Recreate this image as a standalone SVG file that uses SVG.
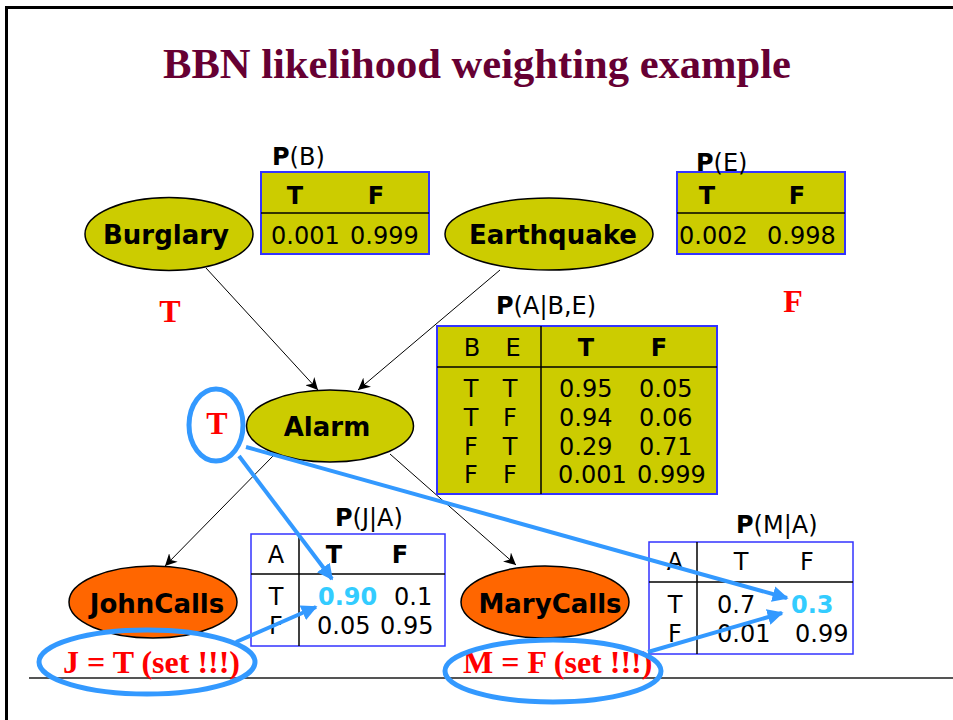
<svg xmlns="http://www.w3.org/2000/svg" width="953" height="720" viewBox="0 0 953 720">
<style>
.t{font-family:"DejaVu Sans","Verdana",sans-serif;font-size:24px;fill:#000}
.b{font-weight:bold}
.nl{font-family:"DejaVu Sans","Verdana",sans-serif;font-size:26px;font-weight:bold;fill:#000;text-anchor:middle}
.red{font-family:"Liberation Serif","Times New Roman",serif;font-weight:bold;font-size:32px;fill:#ff0000}
.m{text-anchor:middle}
.tab{fill:#cccc00;stroke:#3333ff;stroke-width:2}
.tabw{fill:#ffffff;stroke:#3333ff;stroke-width:1.5}
.div{stroke:#000;stroke-width:1.5;fill:none}
.ell{fill:#cccc00;stroke:#000;stroke-width:1.5}
.orn{fill:#ff6600;stroke:#000;stroke-width:1.5}
.edge{stroke:#000;stroke-width:1;fill:none;marker-end:url(#ah)}
.blue{stroke:#3399ff;stroke-width:5;fill:none}
.barr{stroke:#3399ff;stroke-width:4;fill:none;marker-end:url(#bh)}
.cy{fill:#33ccff;font-weight:bold}
</style>
<defs>
<marker id="ah" viewBox="0 0 10 10" refX="10" refY="5" markerWidth="12" markerHeight="12" markerUnits="userSpaceOnUse" orient="auto">
<path d="M0,0 L10,5 L0,10 L3,5 z" fill="#000"/>
</marker>
<marker id="bh" viewBox="0 0 10 10" refX="9" refY="5" markerWidth="4" markerHeight="4" orient="auto">
<path d="M0,0 L10,5 L0,10 z" fill="#3399ff"/>
</marker>
</defs>
<rect x="0" y="0" width="953" height="720" fill="#ffffff"/>
<g id="frame">
<path d="M6.5,720 L6.5,7.5 L953,7.5" stroke="#000" stroke-width="3" fill="none"/>
<line x1="29" y1="678" x2="953" y2="678" stroke="#555" stroke-width="2"/>
</g>
<text id="title" x="163" y="78" font-family="Liberation Serif,Times New Roman,serif" font-weight="bold" font-size="43" fill="#660033" textLength="628" lengthAdjust="spacingAndGlyphs">BBN likelihood weighting example</text>

<g id="connectors">
<line class="edge" x1="206" y1="268" x2="318" y2="390"/>
<line class="edge" x1="500" y1="270" x2="358" y2="390"/>
<line class="edge" x1="273" y1="456" x2="165" y2="566"/>
<line class="edge" x1="390" y1="454" x2="516" y2="565"/>
</g>

<g id="cpt-b">
<text class="t" x="272" y="165"><tspan class="b">P</tspan>(B)</text>
<rect class="tab" x="261" y="172" width="168" height="82"/>
<line class="div" x1="261" y1="213" x2="429" y2="213"/>
<text class="t b m" x="295" y="204">T</text>
<text class="t b m" x="376" y="204">F</text>
<text class="t" x="271" y="244">0.001</text>
<text class="t" x="350" y="244">0.999</text>
</g>

<g id="cpt-e">
<rect class="tab" x="677" y="172" width="168" height="82"/>
<line class="div" x1="677" y1="213" x2="845" y2="213"/>
<text class="t" x="696" y="171"><tspan class="b">P</tspan>(E)</text>
<text class="t b m" x="707" y="204">T</text>
<text class="t b m" x="797" y="204">F</text>
<text class="t" x="679" y="244">0.002</text>
<text class="t" x="767" y="244">0.998</text>
</g>

<g id="cpt-a">
<text class="t" x="496" y="314"><tspan class="b">P</tspan>(A|B,E)</text>
<rect class="tab" x="437" y="326" width="280" height="168"/>
<line class="div" x1="437" y1="367" x2="717" y2="367"/>
<line class="div" x1="541" y1="326" x2="541" y2="494"/>
<text class="t m" x="472" y="356">B</text>
<text class="t m" x="513" y="356">E</text>
<text class="t b m" x="586" y="356">T</text>
<text class="t b m" x="659" y="356">F</text>
<text class="t m" x="471" y="397">T</text><text class="t m" x="510" y="397">T</text>
<text class="t m" x="471" y="426">T</text><text class="t m" x="510" y="426">F</text>
<text class="t m" x="471" y="455">F</text><text class="t m" x="510" y="455">T</text>
<text class="t m" x="471" y="483">F</text><text class="t m" x="510" y="483">F</text>
<text class="t" x="559" y="397">0.95</text><text class="t" x="639" y="397">0.05</text>
<text class="t" x="559" y="426">0.94</text><text class="t" x="639" y="426">0.06</text>
<text class="t" x="559" y="455">0.29</text><text class="t" x="639" y="455">0.71</text>
<text class="t" x="558" y="483">0.001</text><text class="t" x="637" y="483">0.999</text>
</g>

<g id="cpt-j">
<text class="t" x="335" y="526"><tspan class="b">P</tspan>(J|A)</text>
<rect class="tabw" x="251" y="534" width="194" height="112"/>
<line class="div" x1="251" y1="574" x2="445" y2="574"/>
<line class="div" x1="299" y1="534" x2="299" y2="646"/>
<text class="t m" x="276" y="563">A</text>
<text class="t b m" x="334" y="563">T</text>
<text class="t b m" x="400" y="563">F</text>
<text class="t m" x="276" y="605">T</text>
<text class="t m" x="276" y="634">F</text>
<text class="t cy" x="318" y="605">0.90</text>
<text class="t" x="394" y="605">0.1</text>
<text class="t" x="317" y="634">0.05</text>
<text class="t" x="380" y="634">0.95</text>
</g>

<g id="cpt-m">
<text class="t" x="736" y="533"><tspan class="b">P</tspan>(M|A)</text>
<rect class="tabw" x="649" y="542" width="204" height="112"/>
<line class="div" x1="649" y1="582" x2="853" y2="582"/>
<line class="div" x1="697" y1="542" x2="697" y2="654"/>
<text class="t m" x="675" y="570">A</text>
<text class="t m" x="741" y="570">T</text>
<text class="t m" x="807" y="570">F</text>
<text class="t m" x="675" y="613">T</text>
<text class="t m" x="675" y="642">F</text>
<text class="t" x="717" y="613">0.7</text>
<text class="t cy" x="791" y="613">0.3</text>
<text class="t" x="717" y="642">0.01</text>
<text class="t" x="795" y="642">0.99</text>
</g>

<g id="burglary">
<ellipse class="ell" cx="169" cy="234" rx="84" ry="36.5"/>
<text class="nl" x="166" y="244">Burglary</text>
</g>
<g id="earthquake">
<ellipse class="ell" cx="549" cy="234" rx="104" ry="36"/>
<text class="nl" x="553" y="244">Earthquake</text>
</g>
<g id="alarm">
<ellipse class="ell" cx="330" cy="426" rx="83.5" ry="36"/>
<text class="nl" x="327" y="436">Alarm</text>
</g>
<g id="johncalls">
<ellipse class="orn" cx="153" cy="602" rx="84" ry="36"/>
<text class="nl" x="157" y="613">JohnCalls</text>
</g>
<g id="marycalls">
<ellipse class="orn" cx="545" cy="602" rx="84" ry="36"/>
<text class="nl" x="550" y="613">MaryCalls</text>
</g>

<g id="evidence">
<text class="red m" x="170" y="322">T</text>
<text class="red m" x="793" y="312">F</text>
<text class="red m" x="217" y="434">T</text>
<text class="red" x="63" y="673">J = T (set !!!)</text>
<text class="red" x="463" y="673">M = F (set !!!)</text>
<ellipse class="blue" cx="216" cy="425" rx="27" ry="36"/>
<ellipse class="blue" cx="147" cy="662" rx="108" ry="32"/>
<ellipse class="blue" cx="553" cy="671" rx="108" ry="31"/>
</g>

<g id="blue-connectors">
<line class="barr" x1="239" y1="456" x2="332" y2="579"/>
<line class="barr" x1="246" y1="447" x2="787" y2="598"/>
<line class="barr" x1="236" y1="642" x2="316" y2="607"/>
<line class="barr" x1="648" y1="652" x2="782" y2="613"/>
</g>
</svg>
